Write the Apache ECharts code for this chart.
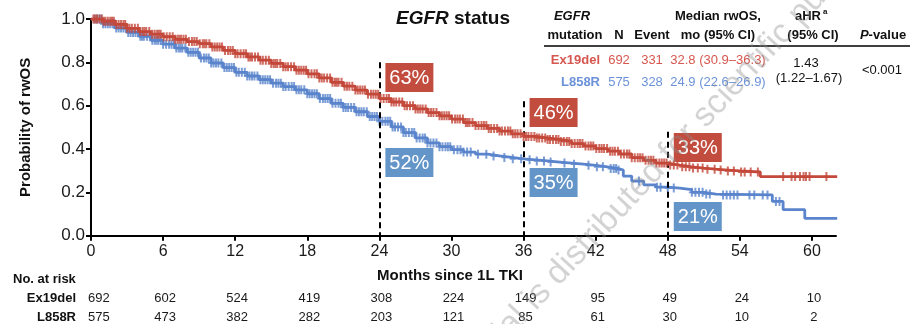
<!DOCTYPE html>
<html><head><meta charset="utf-8">
<script src="https://cdn.jsdelivr.net/npm/echarts@6/dist/echarts.min.js"></script>
<style>html,body{margin:0;padding:0;background:#fff}#c{width:910px;height:324px}</style>
</head><body><div id="c"></div>
<script>
// ---------------- DATA ----------------
const ex19Times = [0,1,2,3,4,5,6,7,8,9,10,11,12,13,14,15,16,17,18,19,20,21,22,23,24,25,26,27,28,29,30,31,32,33,34,35,36,37,38,39,40,41,42,43,44,45,46,47,48,49,50,51,52,53,54,55.7,62.1];
const ex19Surv  = [1.0,0.99,0.975,0.957,0.942,0.93,0.918,0.906,0.896,0.886,0.871,0.855,0.84,0.825,0.81,0.795,0.78,0.764,0.747,0.728,0.708,0.69,0.672,0.653,0.633,0.617,0.6,0.585,0.568,0.553,0.538,0.522,0.508,0.495,0.483,0.47,0.458,0.451,0.444,0.435,0.425,0.414,0.402,0.39,0.377,0.36,0.348,0.335,0.326,0.318,0.312,0.307,0.303,0.299,0.294,0.273,0.273];
const l858Times = [0,1,2,3,4,5,6,7,8,9,10,11,12,13,14,15,16,17,18,19,20,21,22,23,24,25,26,27,28,29,30,31,32,33,34,35,36,37,38,39,40,41,42,43,43.9,44.3,45,46,47,48,49,50,51,52,56.7,57.6,59.4,62.1];
const l858Surv  = [1.0,0.978,0.958,0.938,0.92,0.902,0.884,0.866,0.846,0.82,0.797,0.776,0.754,0.737,0.72,0.704,0.688,0.673,0.655,0.633,0.611,0.592,0.572,0.55,0.528,0.502,0.476,0.451,0.428,0.411,0.397,0.386,0.376,0.368,0.361,0.355,0.35,0.345,0.34,0.335,0.33,0.325,0.318,0.31,0.303,0.275,0.252,0.235,0.224,0.22,0.213,0.2,0.192,0.188,0.158,0.12,0.08,0.08];
const ex19Censor = [0.2,0.5,0.9,1.2,1.6,1.9,2.3,2.7,3.0,3.4,3.9,4.3,4.6,5.1,5.5,5.8,6.3,6.8,7.2,7.5,7.9,8.4,8.8,9.3,9.6,10.1,10.5,10.9,11.4,11.8,12.2,12.7,13.1,13.4,13.9,14.3,14.8,15.2,15.5,16.0,16.4,16.9,17.3,17.7,18.1,18.6,19.0,19.4,19.9,20.3,20.6,21.1,21.5,22.0,22.4,22.8,23.3,23.7,24.1,24.6,25.0,25.4,25.9,26.3,26.8,27.2,27.6,28.1,28.5,29.0,29.4,29.8,30.3,30.7,31.2,31.5,32.0,32.5,32.9,33.3,33.8,34.2,34.7,35.1,35.5,36.0,36.4,36.9,37.3,37.8,38.2,38.7,39.1,39.6,40.0,40.5,40.9,41.4,41.8,42.3,42.7,43.2,43.6,44.1,44.6,45.0,45.5,45.9,46.4,46.8,47.3,47.7,
  0.35,0.7,1.05,1.4,1.75,2.1,2.5,2.85,3.2,3.65,4.1,4.45,4.85,5.3,5.65,6.05,6.55,7.0,7.35,7.7,8.15,8.6,9.05,9.45,9.85,10.3,10.7,11.15,11.6,12.0,12.45,12.9,13.25,13.65,14.1,14.55,15.0,15.35,15.75,16.2,16.65,17.1,17.5,17.9,18.35,18.8,19.2,19.65,20.1,20.45,20.85,21.3,21.75,22.2,22.6,23.05,23.5,23.9,24.35,24.8,25.2,25.65,26.1,26.55,27.0,27.4,27.85,28.3,28.75,29.2,29.6,30.05,30.5,30.95,31.35,31.75,32.25,32.7,33.1,33.55,34.0,34.45,34.9,35.3,35.75,36.2,36.65,37.1,37.55,38.0,38.45,38.9,39.35,39.8,40.25,40.7,41.15,41.6,42.05,42.5,42.95,43.4,43.85,44.35,44.8,45.25,45.7,46.15,46.6,47.05,47.5,47.9,
  48.2,48.5,48.8,49.2,49.5,49.8,50.1,50.5,50.9,51.3,51.9,52.4,53.0,53.5,54.1,54.4,54.9,55.5,57.6,58.3,58.6,59.0,59.3,59.5,59.8,61.2];
const l858Censor = [0.3,0.7,1.0,1.4,1.8,2.1,2.5,2.9,3.3,3.7,4.1,4.4,4.9,5.3,5.6,6.0,6.5,6.9,7.3,7.6,8.1,8.5,8.9,9.4,9.8,10.2,10.6,11.1,11.5,11.9,12.3,12.8,13.2,13.6,14.1,14.5,14.9,15.4,15.8,16.2,16.7,17.1,17.5,18.0,18.4,18.8,19.3,19.7,20.1,20.6,21.0,21.4,21.9,22.3,22.7,23.2,23.6,24.0,24.5,24.9,25.3,25.8,26.2,26.7,27.1,27.6,28.0,28.5,29.0,29.5,29.9,30.5,31.0,31.6,32.2,32.9,33.5,34.4,35.1,35.8,36.5,
  0.5,0.85,1.2,1.6,1.95,2.3,2.7,3.1,3.5,3.9,4.25,4.65,5.1,5.45,5.8,6.25,6.7,7.1,7.45,7.85,8.3,8.7,9.15,9.6,10.0,10.4,10.85,11.3,11.7,12.1,12.55,13.0,13.4,13.85,14.3,14.7,15.15,15.6,16.0,16.45,16.9,17.3,17.75,18.2,18.6,19.05,19.5,19.9,20.35,20.8,21.2,21.65,22.1,22.5,22.95,23.4,23.8,24.25,24.7,25.1,25.55,26.0,26.45,26.9,27.35,27.8,28.25,28.75,29.25,29.7,30.2,30.75,31.3,
  37.1,37.7,38.25,39.4,40.2,41.4,42.1,42.6,43.25,43.5,43.7,43.9,45.6,47.1,47.4,48.0,48.5,50.0,50.3,50.6,50.9,51.2,51.5,52.6,52.9,53.2,53.5,53.8,54.8,55.2,55.9,56.3,57.0,57.3];
const landmarkMonths = [24, 36, 48];
const ex19Landmark = ['63%', '46%', '33%'];
const l858Landmark = ['52%', '35%', '21%'];
const xTicks = [0,6,12,18,24,30,36,42,48,54,60];
const riskEx19 = [692,602,524,419,308,224,149,95,49,24,10];
const riskL858 = [575,473,382,282,203,121,85,61,30,10,2];
const groupNames = ['Ex19del', 'L858R'];
const groupN = [692, 575];
const groupEvents = [331, 328];
const groupMedian = ['32.8 (30.9\u201336.3)', '24.9 (22.6\u201326.9)'];
const aHR = '1.43';
const aHRci = '(1.22\u20131.67)';
const pValue = '<0.001';

// ---------------- STYLE / LAYOUT ----------------
const FONT = '"Liberation Sans", Arial, Helvetica, sans-serif';
const RED = '#C4493B', BLUE = '#5A84CC';
const RED_BOX = '#C24C3E', BLUE_BOX = '#6495C8';
const RED_TXT = '#D5574F', BLUE_TXT = '#6B92D8';
const dashTop = [0.8, 0.62, 0.48];
const ex19BoxTop = [63, 98, 133];
const l858BoxTop = [148, 168, 202];
const PLUS = 'path://M2,0H4V4H6V6H4V10H2V6H0V4H2Z';

function survAt(times, surv, t) {
  let v = surv[0];
  for (let i = 0; i < times.length; i++) { if (times[i] <= t) v = surv[i]; else break; }
  return v;
}

const chart = echarts.init(document.getElementById('c'), null, {renderer: 'canvas'});
const dashData = landmarkMonths.map((m, i) => [{coord: [m, dashTop[i]]}, {coord: [m, 0]}]);

chart.setOption({
  animation: false,
  grid: {left: 91, right: 74, top: 19, bottom: 88.3, containLabel: false, outerBoundsMode: 'none'},
  xAxis: {
    type: 'value', min: 0, max: 62, interval: 6,
    axisLine: {lineStyle: {color: '#000', width: 2}},
    axisTick: {length: 5, lineStyle: {color: '#000', width: 2}, customValues: xTicks},
    axisLabel: {fontFamily: FONT, fontSize: 16, color: '#1a1a1a', margin: 8, customValues: xTicks},
    splitLine: {show: false}
  },
  yAxis: {
    type: 'value', min: 0, max: 1, interval: 0.2,
    name: 'Probability of rwOS', nameLocation: 'middle', nameGap: 58,
    nameTextStyle: {fontFamily: FONT, fontSize: 15, fontWeight: 'bold', color: '#111'},
    axisLine: {show: true, lineStyle: {color: '#000', width: 2}},
    axisTick: {show: true, length: 5, lineStyle: {color: '#000', width: 2}},
    axisLabel: {fontFamily: FONT, fontSize: 17, color: '#1a1a1a', margin: 6, formatter: v => v.toFixed(1)},
    splitLine: {show: false}
  },
  series: [
    {type: 'line', step: 'end', showSymbol: false, z: 3,
     data: l858Times.map((t, i) => [t, l858Surv[i]]),
     lineStyle: {color: BLUE, width: 2.8},
     markLine: {silent: true, symbol: 'none', label: {show: false},
       lineStyle: {color: '#000', width: 2, type: [6, 4]}, data: dashData}},
    {type: 'scatter', z: 4, symbol: PLUS, symbolSize: [6, 9],
     data: l858Censor.map(t => [t, survAt(l858Times, l858Surv, t)]),
     itemStyle: {color: BLUE}},
    {type: 'line', step: 'end', showSymbol: false, z: 5,
     data: ex19Times.map((t, i) => [t, ex19Surv[i]]),
     lineStyle: {color: RED, width: 2.8}},
    {type: 'scatter', z: 6, symbol: PLUS, symbolSize: [6, 9],
     data: ex19Censor.map(t => [t, survAt(ex19Times, ex19Surv, t)]),
     itemStyle: {color: RED}}
  ]
});

// ---------------- GRAPHICS ----------------
const g = [];
function txt(x, y, text, o) {
  o = o || {};
  g.push({type: 'text', x: x, y: y, z: 100, silent: true, rotation: o.rotation || 0,
    style: Object.assign({text: text, fontFamily: FONT, fontSize: o.size || 13, fontWeight: o.weight || 'normal',
      fontStyle: o.italic ? 'italic' : 'normal', fill: o.color || '#111', align: o.align || 'center',
      verticalAlign: 'middle'}, o.rich ? {rich: o.rich} : {})});
}
landmarkMonths.forEach((m, i) => {
  const px = chart.convertToPixel({xAxisIndex: 0}, m);
  [[ex19Landmark[i], ex19BoxTop[i], RED_BOX], [l858Landmark[i], l858BoxTop[i], BLUE_BOX]].forEach(b => {
    g.push({type: 'rect', shape: {x: px + 6, y: b[1], width: 48, height: 29}, style: {fill: b[2]}, z: 90, silent: true});
    txt(px + 30, b[1] + 15, b[0], {size: 20, color: '#fff'});
  });
});
txt(450, 276, 'Months since 1L TKI', {size: 15, weight: 'bold'});
txt(13, 279, 'No. at risk', {size: 13, weight: 'bold', align: 'left'});
txt(76, 298, groupNames[0], {size: 13, weight: 'bold', align: 'right'});
txt(76, 317, groupNames[1], {size: 13, weight: 'bold', align: 'right'});
xTicks.forEach((m, i) => {
  const px = chart.convertToPixel({xAxisIndex: 0}, m);
  const first = i === 0;
  txt(first ? px - 3 : px + 2, 298, String(riskEx19[i]), {size: 13, color: '#1a1a1a', align: first ? 'left' : 'center'});
  txt(first ? px - 3 : px + 2, 317, String(riskL858[i]), {size: 13, color: '#1a1a1a', align: first ? 'left' : 'center'});
});
txt(453, 19, '{i|EGFR} status', {size: 19, weight: 'bold',
  rich: {i: {fontFamily: FONT, fontSize: 19, fontWeight: 'bold', fontStyle: 'italic'}}});
txt(572, 16, 'EGFR', {size: 13, weight: 'bold', italic: true});
txt(575, 35, 'mutation', {size: 13, weight: 'bold'});
txt(619, 35, 'N', {size: 13, weight: 'bold'});
txt(652, 35, 'Event', {size: 13, weight: 'bold'});
txt(718, 16, 'Median rwOS,', {size: 13, weight: 'bold'});
txt(718, 35, 'mo (95% CI)', {size: 13, weight: 'bold'});
txt(808, 16, 'aHR', {size: 13, weight: 'bold'});
txt(823, 12, 'a', {size: 8, weight: 'bold', align: 'left'});
txt(813, 35, '(95% CI)', {size: 13, weight: 'bold'});
txt(883, 35, '{i|P}-value', {size: 13, weight: 'bold',
  rich: {i: {fontFamily: FONT, fontSize: 13, fontWeight: 'bold', fontStyle: 'italic'}}});
g.push({type: 'line', shape: {x1: 544, y1: 46, x2: 910, y2: 46}, style: {stroke: '#000', lineWidth: 1.5}, z: 100, silent: true});
[[60, RED_TXT, 0], [82, BLUE_TXT, 1]].forEach(r => {
  const i = r[2];
  txt(600, r[0], groupNames[i], {size: 13, weight: 'bold', color: r[1], align: 'right'});
  txt(619, r[0], String(groupN[i]), {size: 13, color: r[1]});
  txt(652, r[0], String(groupEvents[i]), {size: 13, color: r[1]});
  txt(718, r[0], groupMedian[i], {size: 13, color: r[1]});
});
txt(806, 63, aHR, {size: 13});
txt(809, 78, aHRci, {size: 13});
txt(882, 70, pValue, {size: 13});
const rot = 47 * Math.PI / 180;
g.push({type: 'text', x: 552, y: 280, rotation: rot, z: 200, silent: true,
  style: {text: 'distributed for scientific purposes only', fontFamily: FONT, fontSize: 34, fill: 'rgba(140,140,140,0.38)', align: 'left', verticalAlign: 'middle'}});
g.push({type: 'text', x: 552, y: 280, rotation: rot, z: 200, silent: true,
  style: {text: 'This material is ', fontFamily: FONT, fontSize: 34, fill: 'rgba(140,140,140,0.38)', align: 'right', verticalAlign: 'middle'}});

chart.setOption({graphic: g});
</script></body></html>
